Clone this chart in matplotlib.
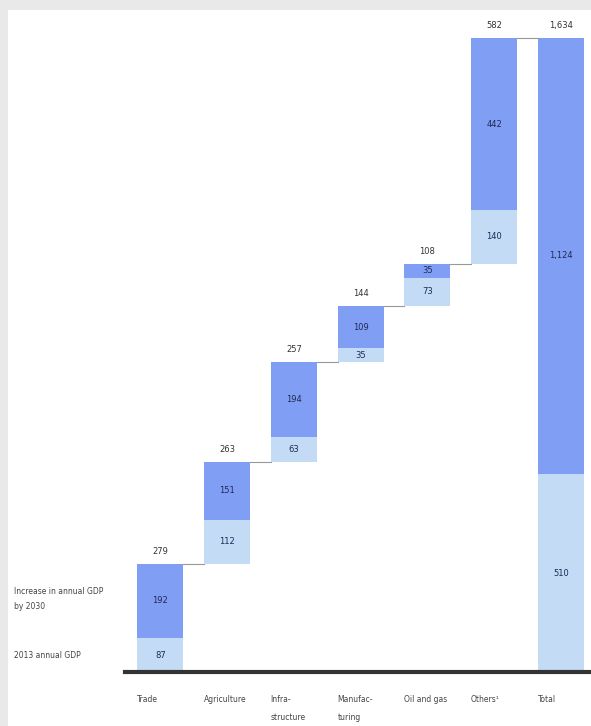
import numpy as np
from matplotlib import pyplot as plt
from matplotlib.patches import Rectangle

categories = ["Trade", "Agriculture", "Infra-\nstructure", "Manufac-\nturing", "Oil and gas", "Others¹", "Total"]
base_2013 = [87, 112, 63, 35, 73, 140, 510]
increase_2030 = [192, 151, 194, 109, 35, 442, 1124]
top_labels = ["279", "263", "257", "144", "108", "582", "1,634"]

LIGHT = "#c4dbf6"
DARK = "#809ef4"
NAVY = "#1f2a55"
W = 0.69

fig = plt.figure(figsize=(5.91, 7.26), dpi=100, facecolor="#e9e9e9")
fig.patches.append(Rectangle((8 / 591, 0), 1, 1 - 10 / 726, transform=fig.transFigure,
                             facecolor="white", edgecolor="none", zorder=-5))

ax = fig.add_axes([125 / 591, 54 / 726, 466 / 591, (672 - 20) / 726])
ax.set_facecolor("none")

# waterfall bottoms
n = len(categories)
bottoms = []
run = 0
for i in range(n - 1):
    bottoms.append(run)
    run += base_2013[i] + increase_2030[i]
bottoms.append(0)

x = np.arange(n)
for i in range(n):
    b = bottoms[i]
    ax.bar(x[i], base_2013[i], W, bottom=b, color=LIGHT, edgecolor="none")
    ax.bar(x[i], increase_2030[i], W, bottom=b + base_2013[i], color=DARK, edgecolor="none")
    top = b + base_2013[i] + increase_2030[i]
    ax.text(x[i], b + base_2013[i] / 2, str(base_2013[i]), ha="center", va="center",
            fontsize=6, color=NAVY)
    inc = f"{increase_2030[i]:,}"
    ax.text(x[i], b + base_2013[i] + increase_2030[i] / 2, inc, ha="center", va="center",
            fontsize=6, color=NAVY)
    ax.text(x[i], top + 20, top_labels[i], ha="center", va="bottom", fontsize=6, color="#333333")
    # connector to next bar
    if i < n - 1:
        ax.plot([x[i] + W / 2, x[i + 1] - W / 2], [top, top], color="#999999", lw=0.8)

ax.set_xlim(-0.53, 6.45)
ax.set_ylim(0, 1680)
ax.set_xticks([])
ax.set_yticks([])
for s in ["top", "right", "left"]:
    ax.spines[s].set_visible(False)
ax.spines["bottom"].set_color("#333333")
ax.spines["bottom"].set_linewidth(3)

for i, c in enumerate(categories):
    ax.text(x[i] - 0.35, -58, c, ha="left", va="top", fontsize=5.5, color="#444444",
            linespacing=2.3)

# legend text on the left
fig.text(14 / 591, 1 - 599 / 726, "Increase in annual GDP\nby 2030", ha="left", va="center",
         fontsize=5.5, color="#444444", linespacing=1.8)
fig.text(14 / 591, 1 - 655 / 726, "2013 annual GDP", ha="left", va="center",
         fontsize=5.5, color="#444444")

plt.savefig("out.png", dpi=100, facecolor=fig.get_facecolor())
